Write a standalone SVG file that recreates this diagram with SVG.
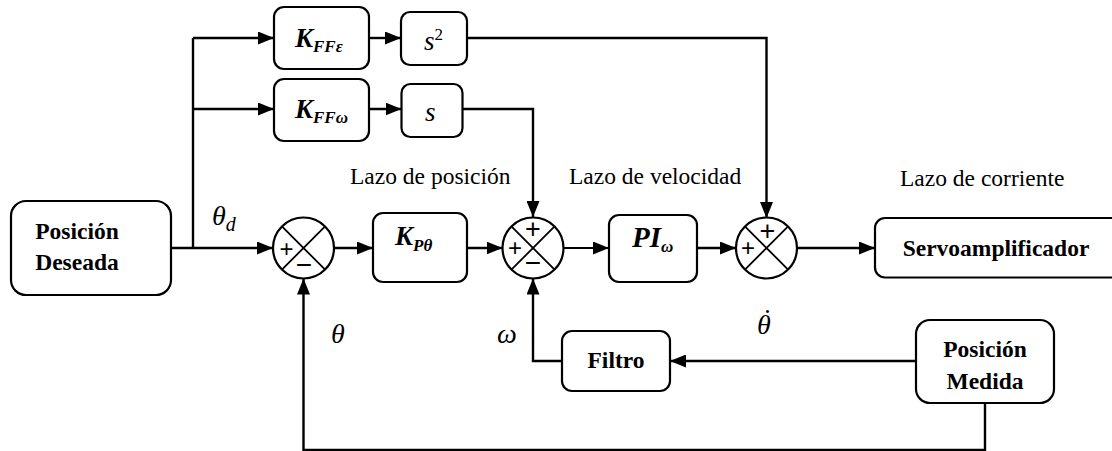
<svg xmlns="http://www.w3.org/2000/svg" width="1112" height="451" viewBox="0 0 1112 451">
<defs>
<marker id="arr" markerUnits="userSpaceOnUse" markerWidth="16" markerHeight="13" refX="16" refY="6.5" orient="auto">
<path d="M0,0 L16,6.5 L0,13 z" fill="#000"/>
</marker>
</defs>
<style>
.box{fill:#fff;stroke:#000;stroke-width:2.2}
.sum{fill:#fff;stroke:#000;stroke-width:2.2}
.x{stroke:#000;stroke-width:1.8}
.ln{fill:none;stroke:#000;stroke-width:2.4;marker-end:url(#arr)}
.pl{fill:none;stroke:#000;stroke-width:2.4}
text{font-family:'Liberation Serif','Times New Roman','DejaVu Serif',serif}
.lbl{font-weight:bold;font-size:23.5px;fill:#000}
.lazo{font-size:23.5px;fill:#000}
.math{font-style:italic;font-weight:bold;fill:#000}
.mi{font-style:italic;fill:#000}
.sg{fill:#000;text-anchor:middle;dominant-baseline:central;font-family:'Liberation Sans',sans-serif}
</style>
<rect width="1112" height="451" fill="#fff"/>
<g id="connectors">
<path class="ln" d="M171,248 H273"/>
<path class="pl" d="M193,248 V38"/>
<path class="ln" d="M193,38 H274"/>
<path class="ln" d="M193,109 H274"/>
<path class="ln" d="M369,38 H401"/>
<path class="ln" d="M369,109 H401.5"/>
<path class="ln" d="M467,38 H766.5 V218"/>
<path class="ln" d="M462.5,109 H533 V217"/>
<path class="ln" d="M334,248 H373"/>
<path class="ln" d="M467,248 H502.5"/>
<path class="ln" d="M563.5,248 H609" style="stroke-width:1.8"/>
<path class="ln" d="M697,248 H736"/>
<path class="ln" d="M797,248 H875"/>
<path class="ln" d="M916,361 H670"/>
<path class="ln" d="M562,361 H533 V278.5"/>
<path class="ln" d="M985,403 V450 H303.5 V278.5"/>
</g>
<g id="posicion-deseada">
<rect class="box" x="11" y="201" width="160" height="94" rx="15"/>
<text class="lbl" x="77" y="239" text-anchor="middle">Posición</text>
<text class="lbl" x="77" y="270" text-anchor="middle">Deseada</text>
</g>
<g id="kffe">
<rect class="box" x="274" y="7" width="95" height="62" rx="10"/>
<text class="math" x="295" y="47" font-size="27">K<tspan font-size="17" dy="5">FFε</tspan></text>
</g>
<g id="s2">
<rect class="box" x="401" y="12" width="66" height="53" rx="9"/>
<text class="mi" x="424" y="50" font-size="27">s<tspan font-size="17" dy="-10" font-style="normal">2</tspan></text>
</g>
<g id="kffw">
<rect class="box" x="274" y="79" width="95" height="62" rx="10"/>
<text class="math" x="295" y="118" font-size="27">K<tspan font-size="17" dy="5">FFω</tspan></text>
</g>
<g id="s1">
<rect class="box" x="401.5" y="84" width="61" height="53" rx="9"/>
<text class="mi" x="425" y="121" font-size="27">s</text>
</g>
<g id="sum1">
<circle class="sum" cx="303.5" cy="248" r="30.5"/>
<path class="x" d="M281.9,226.4 L325.1,269.6 M325.1,226.4 L281.9,269.6"/>
<text class="sg" x="286.5" y="248" font-size="24">+</text>
<text class="sg" x="304" y="264" font-size="28">−</text>
</g>
<g id="kptheta">
<rect class="box" x="373" y="213" width="94" height="69" rx="10"/>
<text class="math" x="395" y="245" font-size="27">K<tspan font-size="17" dy="6">Pθ</tspan></text>
</g>
<g id="sum2">
<circle class="sum" cx="533" cy="248" r="30.5"/>
<path class="x" d="M511.4,226.4 L554.6,269.6 M554.6,226.4 L511.4,269.6"/>
<text class="sg" x="515" y="247" font-size="24">+</text>
<text class="sg" x="533" y="229" font-size="27">+</text>
<text class="sg" x="533" y="262" font-size="28">−</text>
</g>
<g id="piw">
<rect class="box" x="609" y="215" width="88" height="67" rx="10"/>
<text class="math" x="632" y="247" font-size="29">PI<tspan font-size="17" dy="5">ω</tspan></text>
</g>
<g id="sum3">
<circle class="sum" cx="766.5" cy="248" r="30.5"/>
<path class="x" d="M744.9,226.4 L788.1,269.6 M788.1,226.4 L744.9,269.6"/>
<text class="sg" x="748" y="247" font-size="24">+</text>
<text class="sg" x="767.5" y="231" font-size="27">+</text>
</g>
<g id="servo">
<rect class="box" x="875" y="218" width="260" height="59.5" rx="10"/>
<text class="lbl" x="996" y="256" text-anchor="middle">Servoamplificador</text>
</g>
<g id="filtro">
<rect class="box" x="562" y="331" width="108" height="60" rx="10"/>
<text class="lbl" x="616" y="368" text-anchor="middle">Filtro</text>
</g>
<g id="posicion-medida">
<rect class="box" x="916" y="320" width="138" height="83" rx="14"/>
<text class="lbl" x="985" y="357" text-anchor="middle">Posición</text>
<text class="lbl" x="985" y="389" text-anchor="middle">Medida</text>
</g>
<g id="labels">
<text class="lazo" x="350" y="184">Lazo de posición</text>
<text class="lazo" x="569" y="184">Lazo de velocidad</text>
<text class="lazo" x="900" y="186">Lazo de corriente</text>
<text class="mi" x="212" y="225" font-size="28">θ<tspan font-size="20" dy="6">d</tspan></text>
<text class="mi" x="331" y="343" font-size="28">θ</text>
<text class="mi" x="497" y="343" font-size="28">ω</text>
<text class="mi" x="757" y="334" font-size="28">θ<tspan x="761" dy="-6">˙</tspan></text>
</g>
</svg>
